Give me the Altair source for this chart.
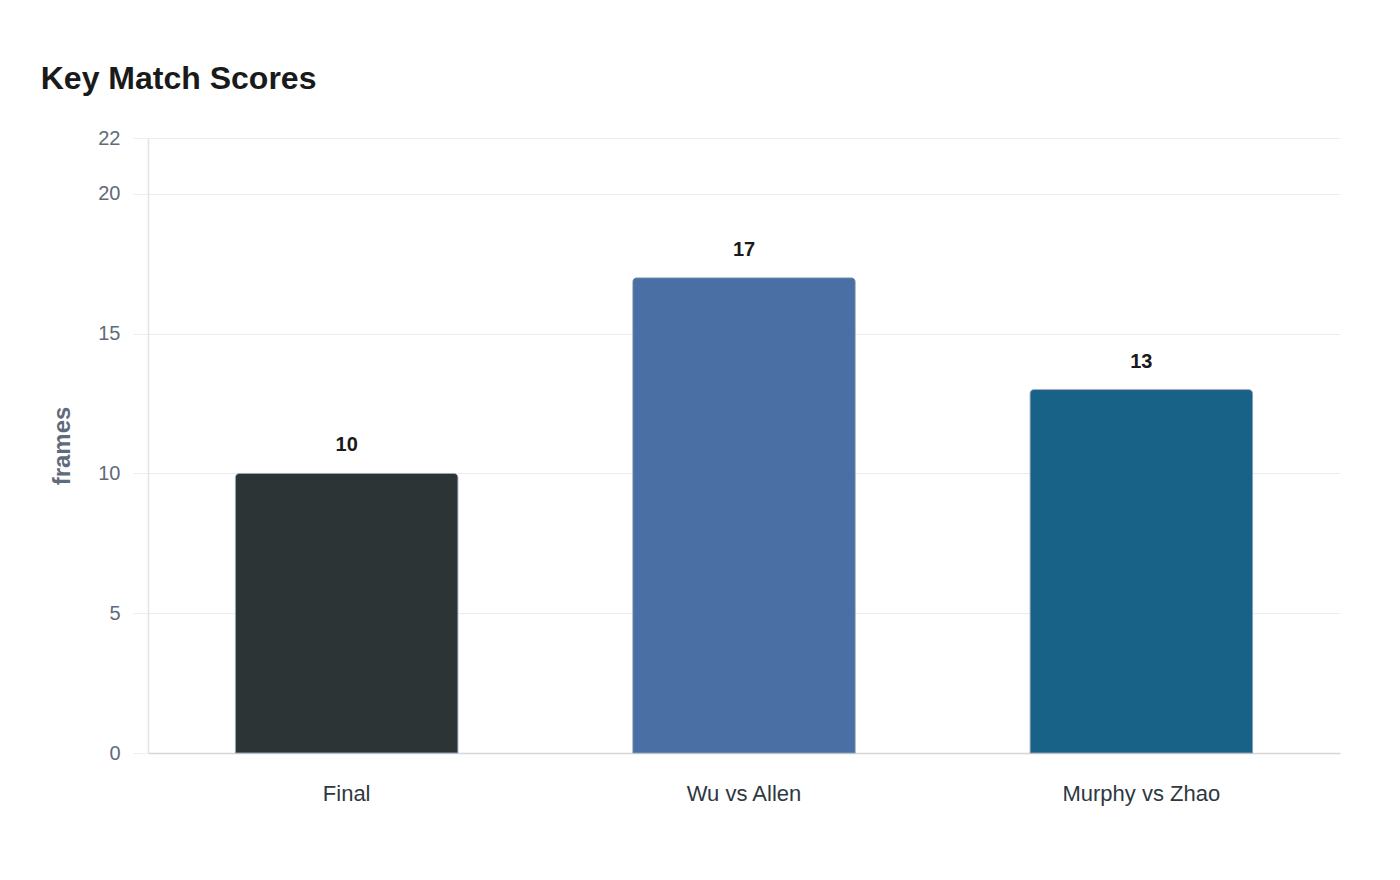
import altair as alt
import pandas as pd

matches = ["Final", "Wu vs Allen", "Murphy vs Zhao"]
frames = [10, 17, 13]
colors = ["#2d3436", "#4a6fa5", "#186187"]

df = pd.DataFrame({"match": matches, "frames": frames, "color": colors})

base = alt.Chart(df).encode(
    x=alt.X("match:N", sort=matches,
            scale=alt.Scale(paddingInner=0.44, paddingOuter=0.22),
            axis=alt.Axis(title=None, labelAngle=0, labelFontSize=22, labelColor="#2e3842",
                          labelFont="Liberation Sans", labelPadding=30, ticks=False,
                          domainColor="#d6d6d6", domainWidth=1.5, grid=False)),
    y=alt.Y("frames:Q",
            scale=alt.Scale(domain=[0, 22], nice=False),
            axis=alt.Axis(title="frames", values=[0, 5, 10, 15, 20, 22],
                          titleFontSize=24, titleFont="Liberation Sans", titleFontWeight="bold",
                          titleColor="#5f6b7a", titlePadding=23,
                          labelFontSize=20, labelFont="Liberation Sans", labelColor="#5f6b7a",
                          labelPadding=13, tickSize=15, tickColor="#eeeeee",
                          gridColor="#ececec", domainColor="#e2e2e2", domainWidth=1.5)),
)

bars = base.mark_bar(cornerRadiusTopLeft=4, cornerRadiusTopRight=4,
                     stroke="#7f93ad", strokeWidth=0.7).encode(
    color=alt.Color("color:N", scale=None)
)

labels = base.mark_text(baseline="alphabetic", dy=-22, fontSize=20, fontWeight="bold",
                        font="Liberation Sans", color="#1a1a1a").encode(
    text=alt.Text("frames:Q")
)

chart = (bars + labels).properties(
    width=1192, height=615,
    background="white",
    title=alt.TitleParams("Key Match Scores", anchor="start", fontSize=32,
                          font="Liberation Sans", fontWeight="bold", color="#1a1a1a",
                          offset=32, dx=-10),
    autosize=alt.AutoSizeParams(type="none"),
    padding={"left": 140, "top": 130, "right": 52, "bottom": 100},
).configure_view(strokeWidth=0, stroke="transparent")

chart.save("out.html", embed_options={"renderer": "svg", "actions": False})
